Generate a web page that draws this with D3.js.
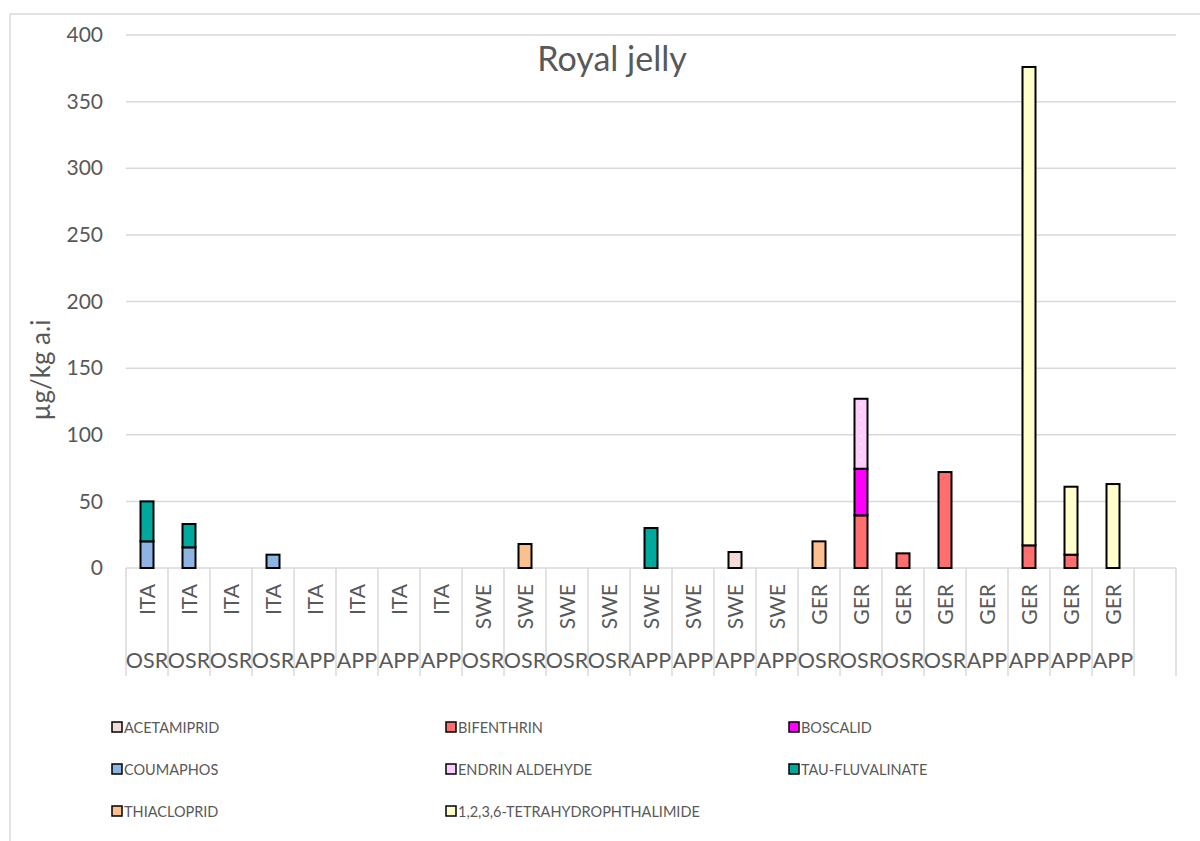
<!DOCTYPE html>
<html>
<head>
<meta charset="utf-8">
<script src="https://cdn.jsdelivr.net/npm/d3@7"></script>
<style>
  html, body { margin: 0; padding: 0; background: #fff; }
  svg { display: block; }
  text { font-family: Lato, "Open Sans", sans-serif; fill: #595959; }
</style>
</head>
<body>
<svg id="chart" width="1200" height="841"></svg>
<script>
// ---- Data ----
const countries = ["ITA","ITA","ITA","ITA","ITA","ITA","ITA","ITA",
                   "SWE","SWE","SWE","SWE","SWE","SWE","SWE","SWE",
                   "GER","GER","GER","GER","GER","GER","GER","GER",""];
const matrices  = ["OSR","OSR","OSR","OSR","APP","APP","APP","APP",
                   "OSR","OSR","OSR","OSR","APP","APP","APP","APP",
                   "OSR","OSR","OSR","OSR","APP","APP","APP","APP",""];
const seriesNames = ["ACETAMIPRID","BIFENTHRIN","BOSCALID","COUMAPHOS",
                     "ENDRIN ALDEHYDE","TAU-FLUVALINATE","THIACLOPRID",
                     "1,2,3,6-TETRAHYDROPHTHALIMIDE"];
const acetamiprid   = [0,0,0,0,0,0,0,0, 0,0,0,0,0,0,12,0, 0,0,0,0,0,0,0,0, 0];
const bifenthrin    = [0,0,0,0,0,0,0,0, 0,0,0,0,0,0,0,0, 0,39.5,11,72,0,17,10,0, 0];
const boscalid      = [0,0,0,0,0,0,0,0, 0,0,0,0,0,0,0,0, 0,35,0,0,0,0,0,0, 0];
const coumaphos     = [20,15.5,0,10,0,0,0,0, 0,0,0,0,0,0,0,0, 0,0,0,0,0,0,0,0, 0];
const endrinAld     = [0,0,0,0,0,0,0,0, 0,0,0,0,0,0,0,0, 0,52.5,0,0,0,0,0,0, 0];
const tauFluval     = [30,17.5,0,0,0,0,0,0, 0,0,0,0,30,0,0,0, 0,0,0,0,0,0,0,0, 0];
const thiacloprid   = [0,0,0,0,0,0,0,0, 0,18,0,0,0,0,0,0, 20,0,0,0,0,0,0,0, 0];
const thpi          = [0,0,0,0,0,0,0,0, 0,0,0,0,0,0,0,0, 0,0,0,0,0,359,51,63, 0];
const yTicks = [0,50,100,150,200,250,300,350,400];
const colors = ["#F2DCDB","#FF6F6F","#FF00FF","#8EB4E3","url(#dots)","#00A99D","#FAC090","#FFFFCC"];
const legendColors = ["#F2DCDB","#FF6F6F","#FF00FF","#8EB4E3","#FFCCFF","#00A99D","#FAC090","#FFFFCC"];

const seriesValues = [acetamiprid,bifenthrin,boscalid,coumaphos,endrinAld,tauFluval,thiacloprid,thpi];
const table = countries.map((c,i) => {
  const row = {idx: i};
  seriesNames.forEach((s,k) => row[s] = seriesValues[k][i]);
  return row;
});

// ---- Layout ----
const svg = d3.select("#chart");
const L = 126, R = 1176, T = 35, B = 568;

const defs = svg.append("defs");
const pat = defs.append("pattern").attr("id","dots").attr("patternUnits","userSpaceOnUse")
  .attr("width",6).attr("height",8);
pat.append("rect").attr("width",6).attr("height",8).attr("fill","#FFCCFF");
pat.append("circle").attr("cx",3).attr("cy",4).attr("r",0.9).attr("fill","#fff");

// chart border
svg.append("path").attr("d","M10,842 L10,14 L1200,14").attr("fill","none")
  .attr("stroke","#d9d9d9").attr("stroke-width",1.5);

const x = d3.scaleBand().domain(d3.range(countries.length)).range([L,R]).padding(0);
const y = d3.scaleLinear().domain([0,400]).range([B,T]);

// gridlines
svg.append("g").selectAll("line").data(yTicks).join("line")
  .attr("x1",L).attr("x2",R).attr("y1",d=>y(d)).attr("y2",d=>y(d))
  .attr("stroke","#d9d9d9").attr("stroke-width",1.5);

// y tick labels
const yAxis = d3.axisLeft(y).tickValues(yTicks).tickSize(0).tickPadding(0);
const gy = svg.append("g").attr("transform",`translate(103,0)`).call(yAxis);
gy.select(".domain").remove();
gy.selectAll("text").style("font-size","21px").attr("fill","#595959")
  .style("font-family","Lato, 'Open Sans', sans-serif");

// category separators
const bounds = d3.range(countries.length+1).map(i => i < countries.length ? x(i) : R);
svg.append("g").selectAll("line").data(bounds).join("line")
  .attr("x1",d=>d).attr("x2",d=>d).attr("y1",B).attr("y2",676)
  .attr("stroke","#d9d9d9").attr("stroke-width",1.5);

// bars
const stack = d3.stack().keys(seriesNames);
const stacked = stack(table);
const bw = 13;
svg.append("g").selectAll("g").data(stacked).join("g")
  .attr("fill",(d,i)=>colors[i])
  .selectAll("rect").data(d=>d.filter(p=>p[1]-p[0]>0)).join("rect")
  .attr("x",d=>x(d.data.idx)+x.bandwidth()/2-bw/2)
  .attr("width",bw)
  .attr("y",d=>y(d[1]))
  .attr("height",d=>y(d[0])-y(d[1]))
  .attr("stroke","#000").attr("stroke-width",2);

// country labels (rotated)
svg.append("g").selectAll("text").data(countries).join("text")
  .attr("transform",(d,i)=>`translate(${x(i)+x.bandwidth()/2+7.5},584) rotate(-90)`)
  .attr("text-anchor","end")
  .style("font-size","21px")
  .text(d=>d);

// matrix labels
svg.append("g").selectAll("text").data(matrices).join("text")
  .attr("x",(d,i)=>x(i)+x.bandwidth()/2).attr("y",668)
  .attr("text-anchor","middle")
  .style("font-size","21.5px")
  .text(d=>d);

// title
svg.append("text").attr("x",612).attr("y",71).attr("text-anchor","middle")
  .style("font-size","34px").text("Royal jelly");

// y-axis title
svg.append("text").attr("transform","translate(50,370) rotate(-90)")
  .attr("text-anchor","middle").style("font-size","26px").text("µg/kg a.i");

// legend
const legX = [112,446,789], legY = [727,769,811];
const leg = svg.append("g").selectAll("g").data(seriesNames).join("g")
  .attr("transform",(d,i)=>`translate(${legX[i%3]},${legY[Math.floor(i/3)]})`);
leg.append("rect").attr("x",0).attr("y",-5).attr("width",10).attr("height",10)
  .attr("fill",(d,i)=>legendColors[i]).attr("stroke","#000").attr("stroke-width",1.5);
leg.append("text").attr("x",12).attr("y",5.5).style("font-size","14.5px").text(d=>d);
</script>
</body>
</html>
